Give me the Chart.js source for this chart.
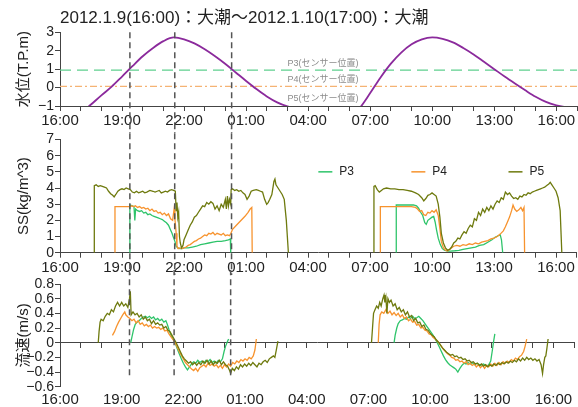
<!DOCTYPE html>
<html>
<head>
<meta charset="utf-8">
<script src="https://cdn.jsdelivr.net/npm/chart.js@4/dist/chart.umd.min.js"></script>
<style>
  html, body { margin: 0; padding: 0; background: #fff; }
  #wrap { position: relative; width: 578px; height: 407px; overflow: hidden; }
  .panel { position: absolute; left: 0; width: 578px; }
  canvas { display: block; }
</style>
</head>
<body>
<div id="wrap">
  <div class="panel" style="top:0px;height:133px"><canvas id="tide" width="578" height="133"></canvas></div>
  <div class="panel" style="top:128px;height:147px"><canvas id="ss" width="578" height="147"></canvas></div>
  <div class="panel" style="top:270px;height:137px"><canvas id="vel" width="578" height="137"></canvas></div>
</div>
<script>
// ---- time axis: hours elapsed since 2012.1.9 16:00 ----
const startHour = 16;
const hourSpan = 25;
const labelEvery = 3;

// ---- observation moments marked with vertical dashed lines (hours) ----
const markerHours = [3.38, 5.55, 8.3];

// ---- water level (T.P. m) ----
const tideHours = [0,0.5,1,1.5,2,2.5,3,3.5,4,4.5,5,5.5,6,6.5,7,7.5,8,8.5,9,9.5,10,10.5,11,11.5,12,12.5,13,13.5,14,14.5,15,15.5,16,16.5,17,17.5,18,18.5,19,19.5,20,20.5,21,21.5,22,22.5,23,23.5,24,24.5,25];
const tideLevel = [-2.3,-1.8,-1.4,-0.92,-0.42,0.05,0.6,1.16,1.7,2.15,2.52,2.72,2.62,2.4,2.08,1.7,1.28,0.82,0.36,-0.08,-0.48,-0.8,-1.02,-1.15,-1.25,-1.35,-1.5,-1.75,-1.6,-1.1,-0.3,0.55,1.3,1.9,2.35,2.62,2.72,2.64,2.45,2.15,1.8,1.4,1.0,0.6,0.22,-0.15,-0.5,-0.78,-0.96,-1.07,-1.12];

// ---- sensor elevations (T.P. m) ----
const sensorNames = ['P3', 'P4', 'P5'];
const sensorLevels = [0.95, 0.07, -1.0];

// ---- suspended sediment SS (kg/m^3), [hour, value] ----
const ssP3 = [[3.38,0],[3.38,2.95],[3.5,2.9],[3.58,2.85],[3.62,2.0],[3.66,2.7],[3.75,2.6],[3.85,2.55],[3.95,2.6],[4.05,2.45],[4.15,2.5],[4.25,2.35],[4.35,2.4],[4.45,2.3],[4.55,2.25],[4.65,2.2],[4.75,2.15],[4.85,2.1],[4.95,2.05],[5.05,1.95],[5.15,1.85],[5.25,1.7],[5.35,1.4],[5.42,1.2],[5.5,0.9],[5.56,0.7],[5.62,0.4],[5.7,0.3],[5.8,0.25],[5.9,0.25],[6.0,0.3],[6.2,0.3],[6.4,0.35],[6.6,0.4],[6.8,0.5],[7.0,0.55],[7.2,0.6],[7.4,0.65],[7.6,0.7],[7.8,0.7],[8.0,0.75],[8.15,0.8],[8.24,0.85],[8.26,0],
  [12,null],
  [16.27,0],[16.27,2.95],[16.5,2.95],[16.8,2.95],[17.1,2.95],[17.25,2.9],[17.35,2.75],[17.45,2.5],[17.55,2.3],[17.65,1.85],[17.72,1.75],[17.8,2.0],[17.9,2.1],[18.0,2.2],[18.08,2.25],[18.15,1.9],[18.22,1.4],[18.3,0.9],[18.4,0.5],[18.5,0.25],[18.6,0.15],[18.75,0.1],[18.9,0.1],[19.1,0.12],[19.3,0.15],[19.5,0.2],[19.7,0.25],[19.9,0.3],[20.1,0.35],[20.3,0.45],[20.5,0.5],[20.7,0.65],[20.9,0.8],[21.05,0.95],[21.2,1.05],[21.3,1.1],[21.36,0.8],[21.42,0]];
const ssP4 = [[2.66,0],[2.66,2.85],[2.8,2.85],[3.0,2.85],[3.2,2.85],[3.4,2.85],[3.46,2.9],[3.55,2.85],[3.65,2.9],[3.75,2.8],[3.85,2.85],[3.95,2.75],[4.05,2.8],[4.15,2.7],[4.25,2.75],[4.35,2.6],[4.45,2.7],[4.55,2.55],[4.65,2.6],[4.75,2.45],[4.85,2.5],[4.95,2.35],[5.05,2.45],[5.15,2.3],[5.25,2.4],[5.35,2.1],[5.45,2.0],[5.52,2.7],[5.56,2.1],[5.62,1.2],[5.66,0.4],[5.72,0.25],[5.8,0.3],[5.9,0.25],[6.0,0.3],[6.1,0.35],[6.2,0.45],[6.3,0.5],[6.4,0.6],[6.5,0.7],[6.6,0.75],[6.7,0.85],[6.8,0.9],[6.9,1.0],[7.0,1.1],[7.1,1.05],[7.2,1.2],[7.3,1.15],[7.4,1.25],[7.5,1.1],[7.6,1.2],[7.7,1.15],[7.8,1.1],[7.9,1.2],[8.0,1.05],[8.1,1.1],[8.2,1.05],[8.27,1.2],[8.35,1.45],[8.5,1.65],[8.65,1.85],[8.8,2.05],[8.95,2.25],[9.1,2.5],[9.2,2.7],[9.28,2.8],[9.3,0],
  [12,null],
  [15.5,0],[15.5,2.85],[15.8,2.85],[16.1,2.85],[16.4,2.85],[16.7,2.85],[17.0,2.85],[17.2,2.8],[17.3,2.7],[17.4,2.55],[17.5,2.6],[17.6,2.35],[17.7,2.3],[17.8,2.5],[17.9,2.45],[18.0,2.6],[18.1,2.5],[18.2,2.65],[18.3,2.3],[18.38,1.5],[18.45,0.7],[18.55,0.3],[18.65,0.15],[18.75,0.1],[18.85,0.2],[18.95,0.3],[19.05,0.4],[19.2,0.45],[19.35,0.4],[19.5,0.5],[19.65,0.45],[19.8,0.55],[19.95,0.5],[20.1,0.6],[20.25,0.55],[20.4,0.65],[20.55,0.7],[20.7,0.75],[20.85,0.85],[21.0,0.9],[21.15,1.0],[21.3,1.15],[21.45,1.35],[21.55,1.6],[21.65,1.9],[21.75,2.2],[21.85,2.6],[21.92,2.95],[22.0,2.7],[22.1,2.55],[22.2,2.65],[22.3,2.8],[22.38,2.6],[22.45,2.8],[22.48,0]];
const ssP5 = [[1.66,0],[1.66,4.15],[1.75,4.2],[1.85,4.1],[1.95,4.15],[2.05,4.1],[2.15,4.05],[2.25,4.0],[2.35,3.8],[2.45,3.65],[2.55,3.55],[2.62,3.45],[2.7,3.6],[2.8,3.8],[2.9,3.9],[3.0,3.95],[3.1,3.9],[3.2,4.0],[3.3,3.95],[3.4,3.9],[3.5,3.75],[3.6,3.7],[3.7,3.8],[3.8,3.7],[3.9,3.75],[4.0,3.8],[4.1,3.7],[4.2,3.75],[4.35,3.85],[4.5,3.8],[4.6,3.75],[4.7,3.8],[4.8,3.85],[4.9,3.7],[5.0,3.75],[5.1,3.8],[5.2,3.75],[5.3,3.85],[5.4,3.9],[5.5,3.85],[5.58,3.8],[5.62,2.6],[5.66,3.1],[5.7,2.2],[5.74,2.5],[5.78,1.0],[5.82,0.6],[5.88,0.3],[5.95,0.45],[6.0,0.8],[6.1,1.1],[6.2,1.4],[6.3,1.7],[6.4,1.9],[6.5,2.2],[6.6,2.3],[6.7,2.5],[6.8,2.7],[6.9,2.9],[7.0,2.85],[7.1,3.1],[7.2,3.0],[7.3,3.15],[7.4,3.05],[7.5,2.7],[7.6,2.9],[7.7,2.6],[7.8,3.0],[7.9,2.8],[8.0,3.3],[8.05,2.7],[8.1,3.5],[8.15,2.9],[8.2,3.3],[8.26,3.0],[8.28,3.9],[8.35,3.95],[8.45,3.85],[8.55,3.9],[8.65,3.8],[8.75,3.85],[8.85,3.7],[8.95,3.6],[9.05,3.3],[9.15,3.5],[9.25,3.8],[9.35,3.85],[9.5,3.9],[9.6,3.85],[9.7,3.8],[9.8,3.75],[9.9,3.3],[10.0,3.0],[10.07,3.1],[10.15,3.3],[10.25,3.6],[10.35,4.4],[10.4,4.55],[10.45,4.2],[10.55,4.0],[10.65,3.8],[10.75,3.6],[10.85,3.3],[10.95,2.0],[11.05,0],
  [12,null],
  [15.19,0],[15.19,4.1],[15.25,4.15],[15.35,3.9],[15.45,3.75],[15.55,3.85],[15.65,3.95],[15.8,4.0],[16.0,3.95],[16.2,3.95],[16.4,3.9],[16.6,3.9],[16.8,3.85],[17.0,3.8],[17.2,3.7],[17.35,3.6],[17.5,3.4],[17.6,3.2],[17.7,3.35],[17.8,3.55],[17.9,3.6],[18.0,3.7],[18.1,3.6],[18.2,3.5],[18.3,3.0],[18.38,2.2],[18.45,1.2],[18.55,0.6],[18.65,0.3],[18.75,0.15],[18.85,0.2],[18.95,0.35],[19.05,0.6],[19.15,0.7],[19.25,0.9],[19.35,0.85],[19.45,1.1],[19.55,1.3],[19.65,1.2],[19.75,1.5],[19.85,1.7],[19.95,1.6],[20.05,2.1],[20.15,2.0],[20.25,2.5],[20.35,2.3],[20.45,2.7],[20.55,2.5],[20.65,2.8],[20.75,2.6],[20.85,2.9],[20.95,2.7],[21.05,3.0],[21.15,3.2],[21.25,3.1],[21.35,3.4],[21.45,3.3],[21.55,3.75],[21.65,3.6],[21.75,3.7],[21.85,3.5],[21.95,3.35],[22.05,3.4],[22.15,3.3],[22.25,3.5],[22.35,3.45],[22.45,3.6],[22.55,3.55],[22.65,3.7],[22.75,3.65],[22.85,3.75],[22.95,3.8],[23.05,3.85],[23.15,3.9],[23.25,3.95],[23.35,4.0],[23.45,4.05],[23.55,4.15],[23.65,4.25],[23.72,4.35],[23.8,4.2],[23.9,4.0],[24.0,3.8],[24.1,3.4],[24.2,2.6],[24.28,0]];

// ---- current velocity (m/s), [hour, value] ----
const velP3 = [[3.44,0.0],[3.5,0.08],[3.58,0.18],[3.66,0.25],[3.75,0.28],[3.85,0.3],[3.95,0.33],[4.05,0.35],[4.15,0.36],[4.25,0.34],[4.35,0.36],[4.45,0.33],[4.55,0.35],[4.65,0.31],[4.75,0.33],[4.85,0.3],[4.95,0.32],[5.05,0.28],[5.15,0.3],[5.22,0.25],[5.3,0.18],[5.4,0.1],[5.5,0.05],[5.6,0.0],[5.7,-0.08],[5.8,-0.15],[5.9,-0.22],[6.0,-0.28],[6.1,-0.33],[6.2,-0.37],[6.3,-0.33],[6.4,-0.29],[6.5,-0.26],[6.6,-0.28],[6.7,-0.24],[6.8,-0.27],[6.9,-0.25],[7.0,-0.28],[7.1,-0.24],[7.2,-0.26],[7.3,-0.23],[7.4,-0.27],[7.5,-0.25],[7.6,-0.28],[7.7,-0.24],[7.8,-0.26],[7.9,-0.22],[7.98,-0.12],[8.05,-0.05],[8.12,0.0],[8.2,0.05],
  [12,null],
  [16.25,0.0],[16.3,0.1],[16.38,0.2],[16.45,0.26],[16.55,0.3],[16.65,0.31],[16.75,0.33],[16.85,0.32],[16.95,0.35],[17.05,0.33],[17.15,0.36],[17.25,0.33],[17.35,0.34],[17.45,0.36],[17.55,0.33],[17.65,0.3],[17.75,0.26],[17.85,0.22],[17.95,0.18],[18.05,0.14],[18.15,0.1],[18.25,0.05],[18.35,0.0],[18.45,-0.06],[18.55,-0.12],[18.65,-0.18],[18.75,-0.23],[18.85,-0.27],[18.95,-0.3],[19.05,-0.32],[19.15,-0.34],[19.25,-0.36],[19.35,-0.4],[19.45,-0.35],[19.55,-0.31],[19.65,-0.28],[19.75,-0.29],[19.85,-0.27],[19.95,-0.29],[20.05,-0.27],[20.15,-0.3],[20.3,-0.28],[20.45,-0.31],[20.6,-0.29],[20.75,-0.32],[20.85,-0.3],[20.95,-0.25],[21.02,-0.12],[21.08,0.0],[21.15,0.12]];
const velP4 = [[2.55,0.1],[2.65,0.15],[2.75,0.22],[2.85,0.28],[2.95,0.33],[3.05,0.38],[3.15,0.42],[3.2,0.38],[3.3,0.35],[3.4,0.33],[3.5,0.3],[3.6,0.32],[3.7,0.27],[3.8,0.3],[3.9,0.25],[4.0,0.27],[4.1,0.23],[4.2,0.25],[4.3,0.22],[4.4,0.24],[4.5,0.2],[4.6,0.22],[4.7,0.2],[4.8,0.21],[4.9,0.18],[5.0,0.2],[5.1,0.16],[5.2,0.17],[5.3,0.12],[5.4,0.08],[5.5,0.04],[5.6,0.0],[5.7,-0.06],[5.8,-0.12],[5.9,-0.17],[6.0,-0.22],[6.1,-0.27],[6.2,-0.3],[6.3,-0.33],[6.4,-0.36],[6.5,-0.38],[6.6,-0.35],[6.7,-0.39],[6.8,-0.34],[6.9,-0.32],[7.0,-0.3],[7.1,-0.33],[7.2,-0.28],[7.3,-0.31],[7.4,-0.29],[7.5,-0.32],[7.6,-0.3],[7.7,-0.34],[7.8,-0.31],[7.9,-0.35],[8.0,-0.3],[8.1,-0.33],[8.2,-0.29],[8.3,-0.32],[8.4,-0.27],[8.5,-0.29],[8.6,-0.25],[8.7,-0.27],[8.8,-0.23],[8.9,-0.25],[9.0,-0.22],[9.1,-0.24],[9.2,-0.2],[9.3,-0.22],[9.4,-0.18],[9.48,-0.1],[9.55,0.05],
  [12,null],
  [15.48,0.0],[15.52,0.25],[15.57,0.38],[15.65,0.42],[15.75,0.4],[15.85,0.45],[15.95,0.4],[16.05,0.43],[16.15,0.38],[16.25,0.41],[16.35,0.37],[16.45,0.4],[16.55,0.35],[16.65,0.38],[16.75,0.33],[16.85,0.35],[16.95,0.3],[17.05,0.32],[17.15,0.28],[17.25,0.29],[17.35,0.24],[17.45,0.25],[17.55,0.2],[17.65,0.21],[17.75,0.17],[17.85,0.16],[17.95,0.12],[18.05,0.11],[18.15,0.07],[18.25,0.05],[18.35,0.02],[18.45,-0.01],[18.55,-0.05],[18.65,-0.09],[18.75,-0.12],[18.85,-0.15],[18.95,-0.17],[19.05,-0.2],[19.15,-0.21],[19.25,-0.24],[19.35,-0.23],[19.45,-0.26],[19.55,-0.25],[19.65,-0.28],[19.75,-0.26],[19.85,-0.3],[19.95,-0.28],[20.05,-0.31],[20.15,-0.29],[20.25,-0.33],[20.35,-0.3],[20.45,-0.34],[20.55,-0.31],[20.65,-0.35],[20.75,-0.31],[20.85,-0.33],[20.95,-0.29],[21.05,-0.32],[21.15,-0.28],[21.25,-0.31],[21.35,-0.27],[21.45,-0.3],[21.55,-0.26],[21.65,-0.28],[21.75,-0.25],[21.85,-0.27],[21.95,-0.23],[22.05,-0.25],[22.15,-0.21],[22.25,-0.23],[22.35,-0.19],[22.45,-0.17],[22.55,-0.12],[22.62,-0.05],[22.7,0.05]];
const velP5 = [[1.86,0],[1.9,0.15],[1.95,0.28],[2.0,0.32],[2.1,0.3],[2.2,0.36],[2.3,0.4],[2.4,0.38],[2.5,0.45],[2.6,0.42],[2.7,0.5],[2.8,0.55],[2.9,0.5],[3.0,0.55],[3.1,0.5],[3.2,0.53],[3.3,0.48],[3.38,0.6],[3.42,0.7],[3.46,0.38],[3.55,0.42],[3.65,0.38],[3.75,0.4],[3.85,0.35],[3.95,0.38],[4.05,0.32],[4.15,0.35],[4.25,0.3],[4.35,0.32],[4.45,0.26],[4.55,0.3],[4.65,0.25],[4.75,0.27],[4.85,0.24],[4.95,0.25],[5.05,0.2],[5.15,0.22],[5.25,0.17],[5.35,0.15],[5.45,0.1],[5.55,0.05],[5.65,0.0],[5.75,-0.06],[5.85,-0.12],[5.95,-0.18],[6.05,-0.22],[6.15,-0.25],[6.25,-0.28],[6.35,-0.26],[6.45,-0.3],[6.55,-0.27],[6.65,-0.31],[6.75,-0.27],[6.85,-0.3],[6.95,-0.25],[7.05,-0.28],[7.15,-0.24],[7.25,-0.29],[7.35,-0.25],[7.45,-0.3],[7.55,-0.26],[7.65,-0.28],[7.75,-0.24],[7.85,-0.3],[7.95,-0.26],[8.05,-0.3],[8.15,-0.32],[8.25,-0.38],[8.3,-0.42],[8.38,-0.35],[8.48,-0.38],[8.58,-0.33],[8.68,-0.36],[8.78,-0.3],[8.88,-0.33],[8.98,-0.29],[9.08,-0.32],[9.18,-0.28],[9.28,-0.31],[9.38,-0.27],[9.48,-0.3],[9.58,-0.33],[9.68,-0.28],[9.78,-0.3],[9.88,-0.26],[9.98,-0.24],[10.08,-0.27],[10.18,-0.22],[10.28,-0.2],[10.38,-0.18],[10.45,-0.2],[10.52,-0.1],[10.6,0.02],
  [12,null],
  [15.15,0.0],[15.2,0.2],[15.25,0.4],[15.32,0.45],[15.4,0.5],[15.48,0.47],[15.55,0.55],[15.62,0.5],[15.7,0.6],[15.76,0.65],[15.8,0.55],[15.85,0.62],[15.9,0.4],[15.95,0.6],[16.02,0.55],[16.1,0.58],[16.2,0.5],[16.3,0.53],[16.4,0.45],[16.5,0.48],[16.6,0.42],[16.7,0.45],[16.8,0.38],[16.9,0.42],[17.0,0.35],[17.1,0.37],[17.2,0.3],[17.3,0.33],[17.4,0.27],[17.5,0.28],[17.6,0.22],[17.7,0.24],[17.8,0.18],[17.9,0.17],[18.0,0.13],[18.1,0.1],[18.2,0.08],[18.3,0.04],[18.4,0.01],[18.5,-0.03],[18.6,-0.07],[18.7,-0.1],[18.8,-0.13],[18.9,-0.15],[19.0,-0.17],[19.1,-0.16],[19.2,-0.19],[19.3,-0.18],[19.4,-0.21],[19.5,-0.2],[19.6,-0.23],[19.7,-0.22],[19.8,-0.25],[19.9,-0.24],[20.0,-0.27],[20.1,-0.26],[20.2,-0.29],[20.3,-0.28],[20.4,-0.31],[20.5,-0.29],[20.6,-0.32],[20.7,-0.3],[20.8,-0.33],[20.9,-0.3],[21.0,-0.32],[21.1,-0.29],[21.2,-0.31],[21.3,-0.28],[21.4,-0.3],[21.5,-0.27],[21.6,-0.29],[21.7,-0.26],[21.8,-0.28],[21.9,-0.25],[22.0,-0.27],[22.1,-0.24],[22.2,-0.26],[22.3,-0.22],[22.4,-0.25],[22.5,-0.21],[22.6,-0.24],[22.7,-0.2],[22.8,-0.23],[22.9,-0.21],[23.0,-0.24],[23.1,-0.22],[23.2,-0.25],[23.3,-0.23],[23.4,-0.3],[23.47,-0.42],[23.52,-0.3],[23.58,-0.2],[23.63,-0.18],[23.68,-0.08],[23.74,0.05]];

// ---- styling ----
const FONT = "'Liberation Sans', 'Noto Sans CJK JP', sans-serif";
const INK = '#222';
const AXIS = '#444';
const COLORS = { P3: '#2ec46a', P4: '#f7932e', P5: '#6e7a0e', tide: '#8b2a9c' };
const PLOT_LEFT = 60;

const toXY = pairs => pairs.map(p => ({ x: p[0], y: p[1] }));
const hourLabel = v => (v % labelEvery === 0)
  ? String((startHour + v) % 24).padStart(2, '0') + ':00' : '';
const signed = v => {
  const r = Math.round(v * 10) / 10;
  if (r === 0) return '0';
  return (r < 0 ? '\u2212' : '') + (Number.isInteger(r) ? Math.abs(r).toString() : Math.abs(r).toFixed(1));
};

function timeAxis(height, pad, extra) {
  return Object.assign({
    type: 'linear', position: 'bottom', min: 0, max: hourSpan,
    afterFit: s => { s.height = height; },
    ticks: { stepSize: 1, autoSkip: false, maxRotation: 0, padding: pad, color: INK,
             font: { family: FONT, size: 15 }, callback: hourLabel },
    grid: { display: true, drawOnChartArea: false, drawTicks: true, tickLength: 5, color: AXIS, lineWidth: 1 },
    border: { display: true, color: AXIS, width: 1 }
  }, extra || {});
}

function valueAxis(min, max, step, title) {
  return {
    type: 'linear', position: 'left', min, max,
    afterFit: s => { s.width = PLOT_LEFT; },
    ticks: { stepSize: step, autoSkip: false, padding: 1, color: INK, font: { family: FONT, size: 14 }, callback: signed },
    grid: { display: true, drawOnChartArea: false, drawTicks: true, tickLength: 5, color: AXIS, lineWidth: 1 },
    border: { display: true, color: AXIS, width: 1 },
    title: { display: true, text: title, color: INK, font: { family: FONT, size: 15 }, padding: { top: 15, bottom: 0 } }
  };
}

// vertical dashed markers, drawn past the plot edges so they run between panels
function markerSets(yFrom, yTo) {
  return markerHours.map(h => ({
    data: [{ x: h, y: yFrom }, { x: h, y: yTo }],
    borderColor: '#555', borderWidth: 1.5, borderDash: [6, 4],
    pointRadius: 0, clip: false, order: -1
  }));
}

function seriesSet(label, pairs, order) {
  return { label, data: toXY(pairs), borderColor: COLORS[label], borderWidth: 1.3,
           pointRadius: 0, tension: 0, spanGaps: false, order };
}

const baseOptions = {
  responsive: false, animation: false, events: [],
  plugins: { legend: { display: false }, tooltip: { enabled: false } }
};

// sensor elevation captions in the water level panel
const sensorCaptions = {
  id: 'sensorCaptions',
  afterDatasetsDraw(chart) {
    const { ctx, scales: { x, y } } = chart;
    ctx.save();
    ctx.font = '9px ' + FONT;
    ctx.fillStyle = '#8c8c8c';
    ctx.textAlign = 'left';
    ctx.textBaseline = 'middle';
    sensorNames.forEach((n, i) => {
      ctx.fillText(n + '(センサー位置)', x.getPixelForValue(11.0), y.getPixelForValue(sensorLevels[i]) - 7);
    });
    ctx.restore();
  }
};

// series key placed inside the SS panel
const legendHours = [12.5, 17.0, 21.7];
const seriesKey = {
  id: 'seriesKey',
  afterDatasetsDraw(chart) {
    const { ctx, scales: { x, y } } = chart;
    ctx.save();
    ctx.font = '12px ' + FONT;
    ctx.textBaseline = 'middle';
    ctx.textAlign = 'left';
    const yy = y.getPixelForValue(5.0);
    sensorNames.forEach((n, i) => {
      const x0 = x.getPixelForValue(legendHours[i]);
      ctx.strokeStyle = COLORS[n];
      ctx.lineWidth = 1.5;
      ctx.beginPath(); ctx.moveTo(x0, yy); ctx.lineTo(x0 + 14, yy); ctx.stroke();
      ctx.fillStyle = INK;
      ctx.fillText(n, x0 + 21, yy);
    });
    ctx.restore();
  }
};

// ---- panel 1: water level ----
new Chart(document.getElementById('tide'), {
  type: 'line',
  data: {
    datasets: [
      { data: tideHours.map((h, i) => ({ x: h, y: tideLevel[i] })), borderColor: COLORS.tide,
        borderWidth: 1.8, pointRadius: 0, cubicInterpolationMode: 'monotone', order: 1 },
      { data: [{ x: 0, y: sensorLevels[0] }, { x: hourSpan, y: sensorLevels[0] }], borderColor: '#5fcf8e',
        borderWidth: 1.3, borderDash: [11, 6], pointRadius: 0, order: 2 },
      { data: [{ x: 0, y: sensorLevels[1] }, { x: hourSpan, y: sensorLevels[1] }], borderColor: '#f5b374',
        borderWidth: 1.3, borderDash: [7, 3, 2, 3], pointRadius: 0, order: 2 },
      ...markerSets(3, -3)
    ]
  },
  options: Object.assign({}, baseOptions, {
    layout: { padding: { top: 0, left: 0, right: 0, bottom: 0 } },
    plugins: {
      legend: { display: false }, tooltip: { enabled: false },
      title: { display: true, text: '2012.1.9(16:00)：大潮～2012.1.10(17:00)：大潮', align: 'start', fullSize: false,
               color: INK, font: { family: FONT, size: 17, weight: 'normal', lineHeight: 1.2 },
               padding: { top: 8, bottom: 3.9 } }
    },
    scales: {
      x: timeAxis(27, 1),
      y: valueAxis(-1, 3, 1, '水位(T.P.m)')
    }
  }),
  plugins: [sensorCaptions]
});

// ---- panel 2: suspended sediment ----
new Chart(document.getElementById('ss'), {
  type: 'line',
  data: {
    datasets: [
      seriesSet('P3', ssP3, 2), seriesSet('P4', ssP4, 1), seriesSet('P5', ssP5, 0),
      ...markerSets(8, -1.6)
    ]
  },
  options: Object.assign({}, baseOptions, {
    layout: { padding: { top: 11.5, left: 0, right: 0, bottom: 0 } },
    scales: {
      x: timeAxis(22.3, 1.3),
      y: valueAxis(0, 7, 1, 'SS(kg/m^3)')
    }
  }),
  plugins: [seriesKey]
});

// ---- panel 3: current velocity ----
new Chart(document.getElementById('vel'), {
  type: 'line',
  data: {
    datasets: [
      seriesSet('P3', velP3, 2), seriesSet('P4', velP4, 1), seriesSet('P5', velP5, 0),
      ...markerSets(1.0, -0.46)
    ]
  },
  options: Object.assign({}, baseOptions, {
    layout: { padding: { top: 14, left: 0, right: 0, bottom: 0 } },
    scales: {
      x: timeAxis(20.3, 4, {
        grid: { display: false, drawTicks: false },
        border: { display: false }
      }),
      xZero: timeAxis(0, 0, {
        position: { y: 0 },
        ticks: { display: false, stepSize: 1, autoSkip: false }
      }),
      y: valueAxis(-0.6, 0.8, 0.2, '流速(m/s)')
    }
  })
});
</script>
</body>
</html>
